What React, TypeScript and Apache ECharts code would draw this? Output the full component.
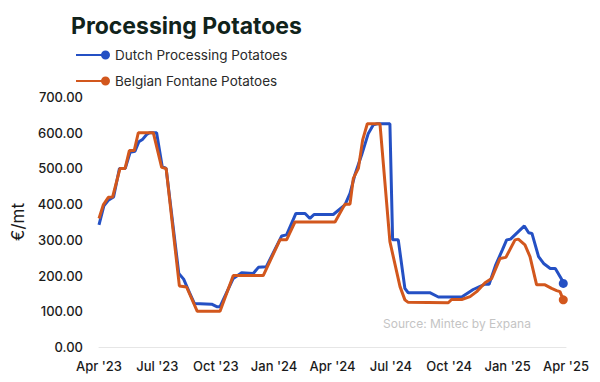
import React, { useEffect, useRef } from "react";
import * as echarts from "echarts";

const quarterLabels = ["Apr '23", "Jul '23", "Oct '23", "Jan '24", "Apr '24", "Jul '24", "Oct '24", "Jan '25", "Apr '25"];

// x = months since 1 Apr 2023
const dutchMonths = [0, 0.25, 0.5, 0.75, 1.05, 1.35, 1.6, 1.85, 2.05, 2.25, 2.45, 2.6, 2.96, 3.25, 3.45, 4.1, 4.35, 4.65, 4.9, 5.79, 6.05, 6.22, 6.9, 7.33, 7.93, 8.19, 8.6, 9.39, 9.64, 10.12, 10.59, 10.84, 11.05, 12.04, 12.64, 12.9, 13.15, 13.5, 13.84, 14.1, 14.3, 14.95, 15.09, 15.38, 15.72, 15.89, 17.0, 17.44, 18.64, 19.23, 19.84, 20.05, 20.39, 20.73, 20.95, 21.15, 21.86, 22.08, 22.25, 22.59, 22.85, 23.19, 23.45, 23.79, 23.86];
const dutchValues = [342, 395, 412, 420, 500, 500, 545, 548, 575, 582, 595, 600, 600, 505, 500, 206, 190, 152, 122, 120, 113, 113, 192, 208, 206, 223, 225, 311, 314, 374, 374, 360, 371, 371, 398, 430, 482, 538, 598, 622, 625, 625, 300, 300, 164, 152, 152, 140, 140, 161, 176, 176, 230, 272, 300, 302, 339, 320, 318, 253, 234, 220, 220, 188, 178];

const belgianMonths = [0, 0.22, 0.48, 0.7, 1.08, 1.34, 1.56, 1.81, 2.02, 2.79, 3.22, 3.45, 4.13, 4.5, 5.05, 6.22, 6.9, 8.44, 9.3, 9.64, 10.07, 12.13, 12.64, 12.9, 13.07, 13.33, 13.55, 13.79, 14.44, 14.95, 15.47, 15.72, 15.89, 17.95, 18.12, 18.64, 19.07, 19.41, 19.84, 20.18, 20.61, 20.91, 21.38, 21.55, 21.89, 22.15, 22.49, 22.92, 23.26, 23.52, 23.69, 23.86];
const belgianValues = [360, 398, 419, 420, 500, 500, 550, 550, 600, 600, 503, 500, 171, 168, 100, 100, 200, 200, 300, 300, 350, 350, 400, 400, 472, 500, 580, 625, 625, 295, 169, 132, 125, 124, 133, 133, 141, 155, 180, 192, 248, 251, 300, 302, 286, 253, 174, 174, 164, 158, 155, 132];

const BLUE = "#2450c4";
const ORANGE = "#d2571d";
const FONT = "Inter";

function buildData(months: number[], values: number[]) {
  const last = months.length - 1;
  return months.map((m, i) =>
    i === last ? { value: [m, values[i]], symbol: "circle", symbolSize: 9 } : { value: [m, values[i]], symbol: "none" }
  );
}

const legendIcon = "path://M0,3.5 L30,3.5 L30,5.5 L0,5.5 Z M34,4.5 A4.5,4.5 0 1 1 25,4.5 A4.5,4.5 0 1 1 34,4.5 Z";

export default function App() {
  const ref = useRef<HTMLDivElement>(null);
  useEffect(() => {
    if (!ref.current) return;
    const chart = echarts.init(ref.current, undefined, { renderer: "svg" });
    chart.setOption({
      animation: false,
      backgroundColor: "#ffffff",
      textStyle: { fontFamily: FONT },
      title: {
        text: "Processing Potatoes",
        left: 66,
        top: 9,
        textStyle: { fontFamily: FONT, fontSize: 23, fontWeight: "bold", color: "#11231b" },
      },
      legend: {
        orient: "vertical",
        left: 76,
        top: 48,
        padding: 0,
        itemWidth: 34,
        itemHeight: 9,
        itemGap: 12,
        icon: legendIcon,
        textStyle: { fontFamily: FONT, fontSize: 13.5, color: "#2a2a2a" },
        data: ["Dutch Processing Potatoes", "Belgian Fontane Potatoes"],
      },
      grid: { left: 99, right: 34, top: 97, bottom: 35 },
      xAxis: {
        type: "value",
        min: 0,
        max: 24,
        interval: 3,
        axisLine: { show: true, lineStyle: { color: "#e6e6e6", width: 1 } },
        axisTick: { show: false },
        splitLine: { show: false },
        axisLabel: {
          margin: 12,
          fontSize: 13,
          fontWeight: 500,
          color: "#1b1b1b",
          fontFamily: FONT,
          formatter: (v: number) => quarterLabels[Math.round(v / 3)] ?? "",
        },
      },
      yAxis: {
        type: "value",
        min: 0,
        max: 700,
        interval: 100,
        name: "€/mt",
        nameLocation: "middle",
        nameRotate: 90,
        nameGap: 68,
        nameTextStyle: { fontFamily: FONT, fontSize: 17, color: "#1b1b1b" },
        axisLine: { show: false },
        axisTick: { show: false },
        splitLine: { show: false },
        axisLabel: {
          margin: 16,
          fontSize: 13,
          fontWeight: 500,
          color: "#1b1b1b",
          fontFamily: FONT,
          formatter: (v: number) => v.toFixed(2),
        },
      },
      graphic: [
        {
          type: "text",
          left: 383,
          top: 317,
          style: { text: "Source: Mintec by Expana", fill: "#c4c4c4", font: `12px ${FONT}` },
        },
      ],
      series: [
        {
          name: "Dutch Processing Potatoes",
          type: "line",
          data: buildData(dutchMonths, dutchValues),
          showSymbol: true,
          lineStyle: { color: BLUE, width: 3 },
          itemStyle: { color: BLUE },
          z: 3,
        },
        {
          name: "Belgian Fontane Potatoes",
          type: "line",
          data: buildData(belgianMonths, belgianValues),
          showSymbol: true,
          lineStyle: { color: ORANGE, width: 3 },
          itemStyle: { color: ORANGE },
          z: 4,
        },
      ],
    });
    return () => chart.dispose();
  }, []);
  return <div ref={ref} style={{ width: 600, height: 382, position: "absolute", left: 0, top: 0 }} />;
}
